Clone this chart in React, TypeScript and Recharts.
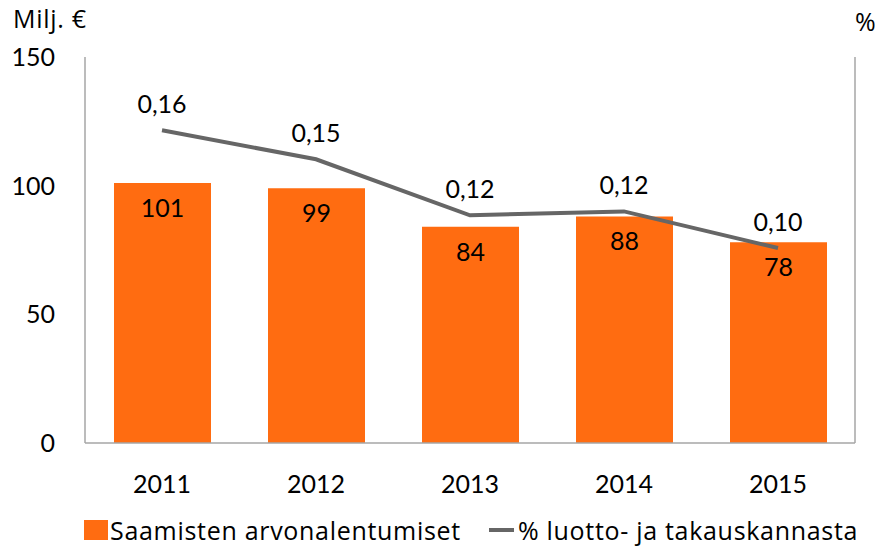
import {
  Bar,
  ComposedChart,
  LabelList,
  Legend,
  Line,
  XAxis,
  YAxis,
} from "recharts";

const years = ["2011", "2012", "2013", "2014", "2015"];
const impairments = [101, 99, 84, 88, 78];
const sharePct = [0.162, 0.147, 0.118, 0.12, 0.101];
const leftTicks = [0, 50, 100, 150];

const data = years.map((year, i) => ({
  year,
  impairments: impairments[i],
  share: sharePct[i],
}));

const FONT = "Lato, 'Open Sans', sans-serif";
const TEXT_FONT = "'Open Sans', Lato, sans-serif";
const ORANGE = "#FF6C11";
const GREY = "#666666";
const AXIS = "#A6A6A6";

const fmtPct = (v: unknown) => Number(v).toFixed(2).replace(".", ",");

function LegendBox() {
  return (
    <div
      style={{
        display: "flex",
        alignItems: "center",
        fontFamily: TEXT_FONT,
        fontSize: 25,
        letterSpacing: 0.7,
        color: "#000",
        paddingLeft: 84,
        height: 34,
        whiteSpace: "nowrap",
      }}
    >
      <span
        style={{
          display: "inline-block",
          width: 24,
          height: 20,
          background: ORANGE,
          marginRight: 2,
        }}
      />
      <span>Saamisten arvonalentumiset</span>
      <span
        style={{
          display: "inline-block",
          width: 25,
          height: 4,
          background: GREY,
          marginLeft: 28,
          marginRight: 4,
        }}
      />
      <span>% luotto- ja takauskannasta</span>
    </div>
  );
}

export default function App() {
  return (
    <div style={{ width: 875, height: 547 }}>
      <style>{`body{margin:0}`}</style>
      <ComposedChart
        width={875}
        height={547}
        data={data}
        margin={{ top: 57, right: 0, bottom: 0, left: 0 }}
      >
        <XAxis
          dataKey="year"
          height={70}
          tickLine={false}
          tickSize={6}
          tickMargin={26}
          axisLine={{ stroke: AXIS, strokeWidth: 1.5 }}
          tick={{ fill: "#000", fontSize: 25, fontFamily: FONT }}
        />
        <YAxis
          yAxisId="left"
          width={85}
          domain={[0, 150]}
          ticks={leftTicks}
          tickLine={false}
          tickSize={6}
          tickMargin={24}
          axisLine={{ stroke: AXIS, strokeWidth: 1.5 }}
          tick={{ fill: "#000", fontSize: 25, fontFamily: FONT }}
          label={{
            content: ({ viewBox }: any) => (
              <text
                x={viewBox.x + 13}
                y={viewBox.y - 29}
                fontSize={25}
                letterSpacing={0.7}
                fontFamily={TEXT_FONT}
                fill="#000"
              >
                Milj. €
              </text>
            ),
          }}
        />
        <YAxis
          yAxisId="right"
          orientation="right"
          width={20}
          domain={[0, 0.2]}
          tick={false}
          tickLine={false}
          axisLine={{ stroke: AXIS, strokeWidth: 1.5 }}
          label={{
            content: ({ viewBox }: any) => (
              <text
                x={viewBox.x}
                y={viewBox.y - 26}
                fontSize={25}
                fontFamily={TEXT_FONT}
                fill="#000"
              >
                %
              </text>
            ),
          }}
        />
        <Legend
          verticalAlign="bottom"
          align="left"
          height={34}
          wrapperStyle={{ left: 0, bottom: 0, width: 875 }}
          content={() => <LegendBox />}
        />
        <Bar
          yAxisId="left"
          dataKey="impairments"
          name="Saamisten arvonalentumiset"
          fill={ORANGE}
          barSize={97}
          isAnimationActive={false}
        >
          <LabelList
            dataKey="impairments"
            position="insideTop"
            offset={16}
            fill="#000"
            fontSize={25}
            fontFamily={FONT}
          />
        </Bar>
        <Line
          yAxisId="right"
          dataKey="share"
          name="% luotto- ja takauskannasta"
          stroke={GREY}
          strokeWidth={4}
          dot={false}
          activeDot={false}
          isAnimationActive={false}
        >
          <LabelList
            dataKey="share"
            position="top"
            offset={17}
            formatter={fmtPct}
            fill="#000"
            fontSize={25}
            fontFamily={FONT}
          />
        </Line>
      </ComposedChart>
    </div>
  );
}
